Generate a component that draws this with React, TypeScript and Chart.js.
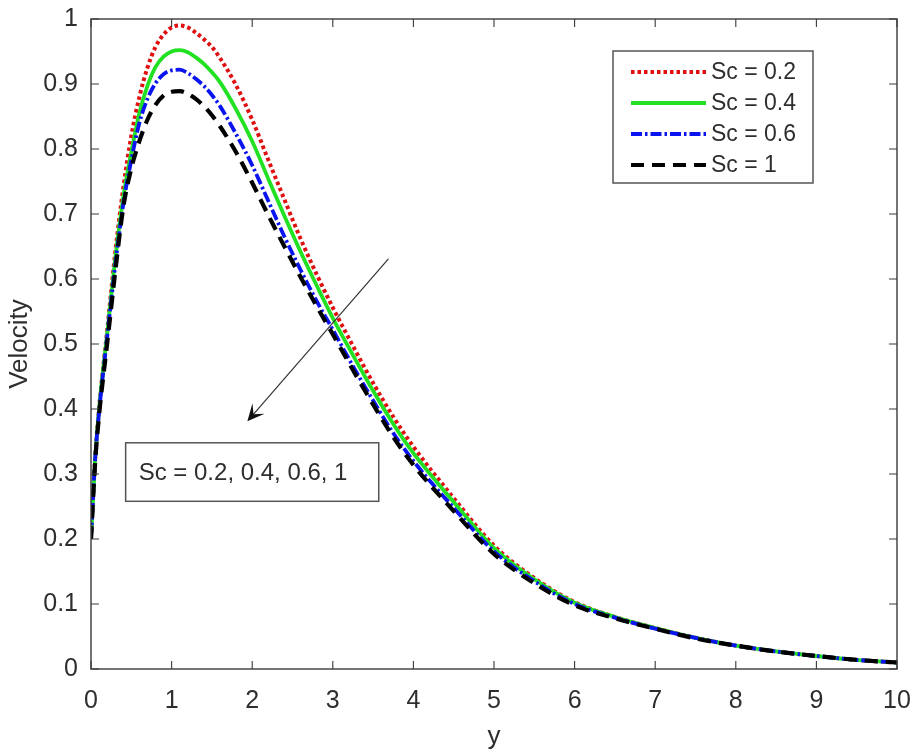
import React, { useEffect, useRef } from "react";
import { Chart, registerables } from "chart.js";

Chart.register(...registerables);

// ---------- data ----------
const X_VALUES = [
  0, 0.05, 0.1, 0.2, 0.3, 0.4, 0.5, 0.6, 0.7, 0.8, 0.9, 1.0, 1.1, 1.2, 1.3, 1.4,
  1.5, 1.6, 1.8, 2.0, 2.2, 2.4, 2.6, 2.8, 3.0, 3.25, 3.5, 3.75, 4.0, 4.5, 5.0,
  5.5, 6.0, 6.5, 7.0, 7.5, 8.0, 8.5, 9.0, 9.5, 10,
];

const SC_02 = [
  0.2, 0.32, 0.4, 0.52, 0.64, 0.74, 0.82, 0.88, 0.925, 0.957, 0.976, 0.987,
  0.99, 0.987, 0.979, 0.969, 0.957, 0.94, 0.898, 0.845, 0.783, 0.722, 0.662,
  0.607, 0.556, 0.497, 0.44, 0.388, 0.342, 0.263, 0.19, 0.14, 0.103, 0.08,
  0.063, 0.048, 0.036, 0.027, 0.02, 0.014, 0.01,
];

const SC_04 = [
  0.2, 0.32, 0.4, 0.515, 0.63, 0.725, 0.795, 0.855, 0.897, 0.926, 0.942, 0.95,
  0.952, 0.949, 0.941, 0.931, 0.918, 0.903, 0.861, 0.812, 0.754, 0.697, 0.642,
  0.59, 0.54, 0.483, 0.428, 0.377, 0.332, 0.257, 0.186, 0.138, 0.102, 0.08,
  0.063, 0.048, 0.036, 0.027, 0.02, 0.014, 0.01,
];

const SC_06 = [
  0.2, 0.32, 0.395, 0.51, 0.62, 0.715, 0.783, 0.84, 0.877, 0.901, 0.915, 0.921,
  0.922, 0.917, 0.908, 0.897, 0.883, 0.866, 0.823, 0.775, 0.72, 0.665, 0.614,
  0.566, 0.522, 0.466, 0.413, 0.363, 0.32, 0.248, 0.181, 0.135, 0.1, 0.079,
  0.062, 0.048, 0.036, 0.027, 0.02, 0.014, 0.01,
];

const SC_1 = [
  0.2, 0.315, 0.39, 0.5, 0.61, 0.71, 0.77, 0.812, 0.845, 0.868, 0.882, 0.888,
  0.889, 0.885, 0.877, 0.866, 0.852, 0.835, 0.795, 0.748, 0.698, 0.65, 0.603,
  0.558, 0.515, 0.46, 0.407, 0.357, 0.314, 0.243, 0.177, 0.132, 0.098, 0.078,
  0.062, 0.047, 0.036, 0.027, 0.02, 0.014, 0.01,
];

const SERIES_LABELS = ["Sc = 0.2", "Sc = 0.4", "Sc = 0.6", "Sc = 1"];
const X_TITLE = "y";
const Y_TITLE = "Velocity";
const ANNOTATION_TEXT = "Sc = 0.2, 0.4, 0.6, 1";

// annotation anchors in data space
const ARROW_FROM = { x: 3.69, y: 0.631 };
const ARROW_TO = { x: 1.94, y: 0.381 };
const TEXTBOX = { x0: 0.43, x1: 3.57, yTop: 0.348, yBottom: 0.258 };

// ---------- styles ----------
const FONT = "'Liberation Sans', Arial, Helvetica, sans-serif";
const AXIS_COLOR = "#3a3a3a";
const TEXT_COLOR = "#2e2e2e";

const STYLES = [
  { color: "#e01010", width: 4, dash: [3.5, 3] },
  { color: "#22e022", width: 3.8, dash: [] as number[] },
  { color: "#0a14f0", width: 3.8, dash: [11, 3, 2.5, 3] },
  { color: "#000000", width: 4.2, dash: [13, 8] },
];

const framePlugin = {
  id: "matlabFrame",
  afterDatasetsDraw(chart: any) {
    const { ctx, chartArea: a, scales } = chart;
    const xs = scales.x;
    const ys = scales.y;
    const tl = 8;
    ctx.save();
    ctx.strokeStyle = AXIS_COLOR;
    ctx.lineWidth = 1.4;
    ctx.strokeRect(a.left, a.top, a.right - a.left, a.bottom - a.top);
    ctx.lineWidth = 1.1;
    ctx.beginPath();
    xs.ticks.forEach((t: any) => {
      const px = xs.getPixelForValue(t.value);
      ctx.moveTo(px, a.bottom);
      ctx.lineTo(px, a.bottom - tl);
      ctx.moveTo(px, a.top);
      ctx.lineTo(px, a.top + tl);
    });
    ys.ticks.forEach((t: any) => {
      const py = ys.getPixelForValue(t.value);
      ctx.moveTo(a.left, py);
      ctx.lineTo(a.left + tl, py);
      ctx.moveTo(a.right, py);
      ctx.lineTo(a.right - tl, py);
    });
    ctx.stroke();
    ctx.restore();
  },
};

const annotationPlugin = {
  id: "arrowAnnotation",
  afterDatasetsDraw(chart: any) {
    const { ctx, scales } = chart;
    const xs = scales.x;
    const ys = scales.y;
    const x1 = xs.getPixelForValue(ARROW_FROM.x);
    const y1 = ys.getPixelForValue(ARROW_FROM.y);
    const x2 = xs.getPixelForValue(ARROW_TO.x);
    const y2 = ys.getPixelForValue(ARROW_TO.y);
    const dx = x2 - x1;
    const dy = y2 - y1;
    const len = Math.hypot(dx, dy);
    const ux = dx / len;
    const uy = dy / len;
    const px = -uy;
    const py = ux;
    const L = 17;
    const W = 8;
    ctx.save();
    ctx.strokeStyle = "#333";
    ctx.lineWidth = 1.2;
    ctx.beginPath();
    ctx.moveTo(x1, y1);
    ctx.lineTo(x2 - ux * L * 0.5, y2 - uy * L * 0.5);
    ctx.stroke();
    ctx.fillStyle = "#111";
    ctx.beginPath();
    ctx.moveTo(x2, y2);
    ctx.lineTo(x2 - ux * L + px * W, y2 - uy * L + py * W);
    ctx.lineTo(x2 - ux * L * 0.55, y2 - uy * L * 0.55);
    ctx.lineTo(x2 - ux * L - px * W, y2 - uy * L - py * W);
    ctx.closePath();
    ctx.fill();

    const bx0 = xs.getPixelForValue(TEXTBOX.x0);
    const bx1 = xs.getPixelForValue(TEXTBOX.x1);
    const by0 = ys.getPixelForValue(TEXTBOX.yTop);
    const by1 = ys.getPixelForValue(TEXTBOX.yBottom);
    ctx.fillStyle = "#ffffff";
    ctx.fillRect(bx0, by0, bx1 - bx0, by1 - by0);
    ctx.strokeStyle = "#555";
    ctx.lineWidth = 1.5;
    ctx.strokeRect(bx0, by0, bx1 - bx0, by1 - by0);
    ctx.fillStyle = TEXT_COLOR;
    ctx.font = `24px ${FONT}`;
    ctx.textAlign = "left";
    ctx.textBaseline = "middle";
    ctx.fillText(ANNOTATION_TEXT, bx0 + 13, (by0 + by1) / 2 + 1);
    ctx.restore();
  },
};

const legendPlugin = {
  id: "boxLegend",
  afterDatasetsDraw(chart: any) {
    const { ctx, chartArea: a } = chart;
    const w = 200;
    const h = 132;
    const left = a.right - 284;
    const top = a.top + 32;
    ctx.save();
    ctx.fillStyle = "#fff";
    ctx.fillRect(left, top, w, h);
    ctx.strokeStyle = "#555";
    ctx.lineWidth = 1.5;
    ctx.strokeRect(left, top, w, h);
    chart.data.datasets.forEach((ds: any, i: number) => {
      const cy = top + 21 + i * 31;
      ctx.strokeStyle = ds.borderColor;
      ctx.lineWidth = ds.borderWidth;
      ctx.setLineDash(ds.borderDash || []);
      ctx.beginPath();
      ctx.moveTo(left + 18, cy);
      ctx.lineTo(left + 93, cy);
      ctx.stroke();
      ctx.setLineDash([]);
      ctx.fillStyle = TEXT_COLOR;
      ctx.font = `23px ${FONT}`;
      ctx.textAlign = "left";
      ctx.textBaseline = "middle";
      ctx.fillText(ds.label, left + 98, cy + 1);
    });
    ctx.restore();
  },
};

export default function App() {
  const canvasRef = useRef<HTMLCanvasElement | null>(null);

  useEffect(() => {
    const canvas = canvasRef.current;
    if (!canvas) return;
    const seriesValues = [SC_02, SC_04, SC_06, SC_1];
    const datasets = seriesValues.map((vals, i) => ({
      label: SERIES_LABELS[i],
      data: X_VALUES.map((x, j) => ({ x, y: vals[j] })),
      borderColor: STYLES[i].color,
      backgroundColor: STYLES[i].color,
      borderWidth: STYLES[i].width,
      borderDash: STYLES[i].dash,
      pointRadius: 0,
      fill: false,
      cubicInterpolationMode: "monotone" as const,
      order: 4 - i,
    }));

    const chart = new Chart(canvas, {
      type: "line",
      data: { datasets },
      options: {
        animation: false,
        responsive: false,
        devicePixelRatio: 1,
        layout: { padding: { top: 19, right: 22, bottom: 0, left: 0 } },
        plugins: {
          legend: { display: false },
          tooltip: { enabled: false },
        },
        scales: {
          x: {
            type: "linear",
            min: 0,
            max: 10,
            grid: { display: false, drawTicks: false },
            border: { display: false },
            ticks: {
              stepSize: 1,
              autoSkip: false,
              maxRotation: 0,
              padding: 17,
              color: TEXT_COLOR,
              font: { family: FONT, size: 25 },
            },
            title: {
              display: true,
              text: X_TITLE,
              color: TEXT_COLOR,
              font: { family: FONT, size: 26 },
              padding: { top: 4, bottom: 4 },
            },
            afterFit(scale: any) {
              scale.height = 87;
              scale.paddingLeft = 0;
              scale.paddingRight = 0;
            },
          },
          y: {
            type: "linear",
            min: 0,
            max: 1,
            grid: { display: false, drawTicks: false },
            border: { display: false },
            ticks: {
              stepSize: 0.1,
              autoSkip: false,
              padding: 13,
              color: TEXT_COLOR,
              font: { family: FONT, size: 25 },
              callback: (v: any) => String(parseFloat(Number(v).toFixed(1))),
            },
            title: {
              display: true,
              text: Y_TITLE,
              color: TEXT_COLOR,
              font: { family: FONT, size: 26 },
              padding: { top: 4, bottom: 4 },
            },
            afterFit(scale: any) {
              scale.width = 91;
              scale.paddingTop = 0;
              scale.paddingBottom = 0;
            },
          },
        },
      },
      plugins: [framePlugin, annotationPlugin, legendPlugin],
    });

    return () => chart.destroy();
  }, []);

  return (
    <div
      style={{
        position: "fixed",
        left: 0,
        top: 0,
        width: 919,
        height: 756,
        background: "#fff",
      }}
    >
      <canvas ref={canvasRef} width={919} height={756} style={{ display: "block" }} />
    </div>
  );
}
